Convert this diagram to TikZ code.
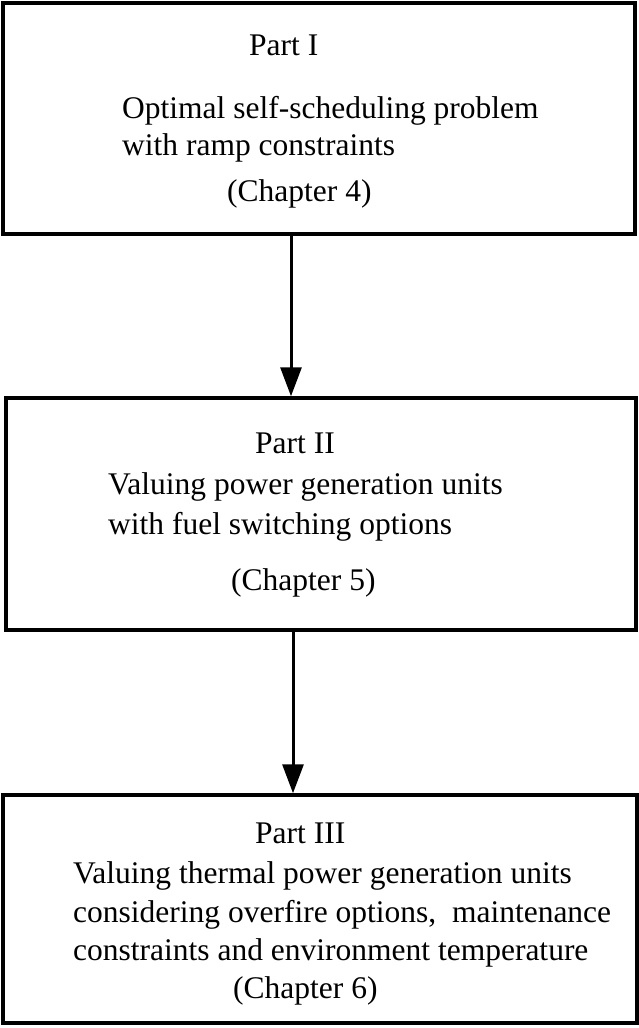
\documentclass[tikz,border=0pt]{standalone}
\usepackage{fontspec}
\setmainfont{Liberation Serif}
\usetikzlibrary{arrows.meta}
\begin{document}
\begin{tikzpicture}[x=1pt,y=-1pt,
  boxstyle/.style={draw=black,line width=3.5pt,inner sep=0pt,fill=none},
  txt/.style={anchor=base west,inner sep=0pt,font=\fontsize{31.5}{36}\selectfont},
  arr/.style={line width=3pt,-{Triangle[length=29pt,width=21pt]}}]
\useasboundingbox (0,0) rectangle (639,1028);
% boxes
\node[boxstyle,minimum width=632pt,minimum height=231pt] (b1) at (319,118.5) {};
\node[boxstyle,minimum width=630pt,minimum height=232pt] (b2) at (321,514) {};
\node[boxstyle,minimum width=634pt,minimum height=228pt] (b3) at (320,909) {};
% texts box 1
\node[txt] (t11) at (249,55) {Part I};
\node[txt] (t12) at (122,118) {Optimal self-scheduling problem};
\node[txt] (t13) at (122,155) {with ramp constraints};
\node[txt] (t14) at (227,201) {(Chapter 4)};
% texts box 2
\node[txt] (t21) at (255,453) {Part II};
\node[txt] (t22) at (108,494) {Valuing power generation units};
\node[txt] (t23) at (108,534) {with fuel switching options};
\node[txt] (t24) at (231,590) {(Chapter 5)};
% texts box 3
\node[txt] (t31) at (255,843) {Part III};
\node[txt] (t32) at (73,883) {Valuing thermal power generation units};
\node[txt] (t33) at (73,922) {considering overfire options,\ \ maintenance};
\node[txt] (t34) at (73,960) {constraints and environment temperature};
\node[txt] (t35) at (233,998) {(Chapter 6)};
% arrows
\coordinate (ax1) at (291,0);
\coordinate (ax2) at (293,0);
\draw[arr] (b1.south -| ax1) -- (b2.north -| ax1);
\draw[arr] (b2.south -| ax2) -- (b3.north -| ax2);
\end{tikzpicture}
\end{document}
